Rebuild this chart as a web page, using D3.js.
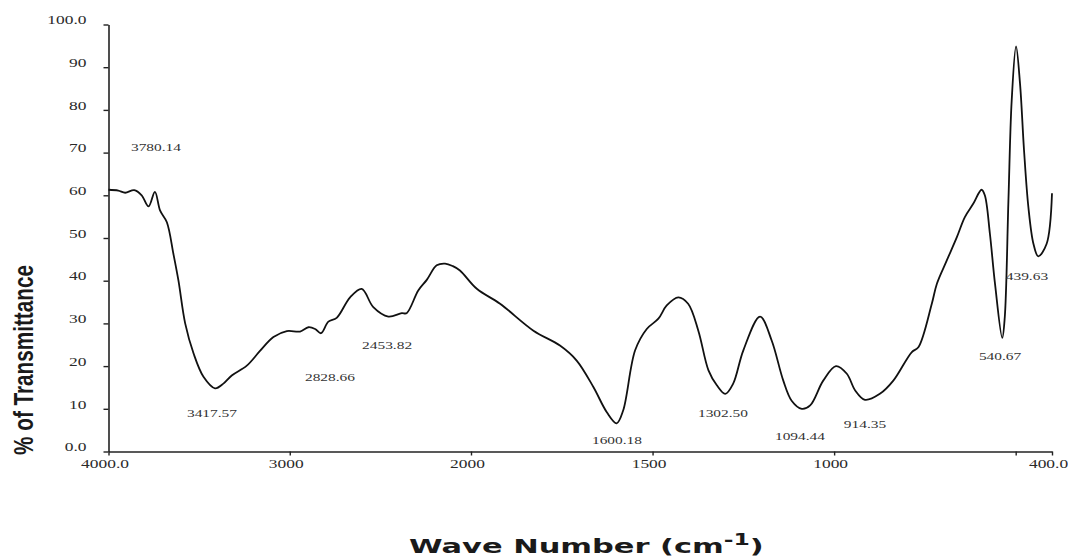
<!DOCTYPE html>
<html>
<head>
<meta charset="utf-8">
<script src="https://cdn.jsdelivr.net/npm/d3@7"></script>
<style>
  body { margin: 0; background: #fff; }
  svg { display: block; }
</style>
</head>
<body>
<svg id="chart"></svg>
<script>
// FTIR spectrum
const waveNumbers = [4000, 3946, 3908, 3858, 3817, 3779, 3744, 3715, 3678, 3642, 3614, 3577, 3531, 3476, 3412,
    3366, 3320, 3237, 3163, 3090, 3016, 2943, 2897, 2860, 2827, 2787, 2741, 2667, 2603, 2539, 2456, 2382,
    2355, 2291, 2244, 2189, 2143, 2100, 2061, 1984, 1920, 1828, 1755, 1709, 1663, 1626, 1599, 1581, 1548,
    1516, 1484, 1461, 1429, 1402, 1374, 1346, 1323, 1300, 1278, 1250, 1204, 1172, 1140, 1117, 1089, 1066,
    1030, 995, 965, 942, 915, 874, 837, 786, 768, 731, 717, 690, 662, 640, 617, 594, 585, 571, 557, 537,
    530, 520, 511, 499, 488, 477, 465, 451, 438, 415, 400];
const transmittance = [61.3, 61.1, 60.6, 61.2, 60.0, 57.4, 60.8, 56.4, 53.7, 46.3, 40.0, 30.0, 23.0, 17.5, 14.8,
    15.9, 17.8, 20.1, 23.6, 26.8, 28.2, 28.1, 29.1, 28.7, 27.7, 30.4, 31.3, 36.1, 38.1, 33.8, 31.6, 32.4,
    32.4, 37.7, 40.2, 43.6, 44.0, 43.4, 42.4, 38.1, 34.6, 28.3, 24.8, 21.3, 15.1, 9.2, 6.6, 9.6, 23.7,
    28.7, 31.1, 34.2, 36.1, 34.6, 28.3, 19.0, 15.5, 13.5, 15.9, 23.7, 31.6, 26.0, 16.6, 11.9, 10.0, 10.8,
    16.6, 20.0, 18.2, 14.3, 12.1, 13.5, 16.6, 23.3, 24.4, 34.6, 39.3, 44.7, 50.2, 54.9, 58.0, 61.3, 60.0, 51.0, 39.3, 26.6,
    31.5, 58.8, 82.2, 94.9, 86.1, 70.5, 57.2, 48.6, 45.7, 48.6, 60.5];

// peak annotations: text and where it sits (in wave number / % units)
const peakLabels = ['3780.14', '3417.57', '2828.66', '2453.82', '1600.18', '1302.50', '1094.44', '914.35', '540.67', '439.63'];
const peakLabelWn = [3738, 3429, 2778, 2463, 1598, 1306, 1094, 915, 543, 469];
const peakLabelT = [71.2, 9.0, 17.4, 24.9, 2.6, 9.0, 3.6, 6.3, 22.4, 41.1];

const xTicks = [4000, 3000, 2000, 1500, 1000, 500, 400];
const xTickLabels = ['4000.0', '3000', '2000', '1500', '1000', '', '400.0'];
const yTicks = [0, 10, 20, 30, 40, 50, 60, 70, 80, 90, 100];
const yTickLabels = ['0.0', '10', '20', '30', '40', '50', '60', '70', '80', '90', '100.0'];

const width = 1068;
const height = 560;

const svg = d3.select('#chart')
    .attr('width', width)
    .attr('height', height);

// the axis is split: 4000-2000 squeezed, 2000-400 stretched
const xScale = d3.scaleLinear()
    .domain([4000, 2000, 400])
    .range([108.5, 471, 1052]);
const yScale = d3.scaleLinear()
    .domain([0, 100])
    .range([451.5, 24.5]);

// width of a label made of digits and a point
const textW = (s, digit) => s.split('').reduce((a, c) => a + (c === '.' ? digit * 0.5 : digit), 0);

const xAxis = d3.axisBottom(xScale)
    .tickValues(xTicks)
    .tickFormat((d, i) => xTickLabels[i])
    .tickSize(4)
    .tickSizeOuter(0)
    .tickPadding(3.5);
const yAxis = d3.axisLeft(yScale)
    .tickValues(yTicks)
    .tickFormat((d, i) => yTickLabels[i])
    .tickSize(5)
    .tickSizeOuter(0)
    .tickPadding(17);

const gx = svg.append('g')
    .attr('transform', `translate(0,${yScale(0)})`)
    .call(xAxis);
const gy = svg.append('g')
    .attr('transform', `translate(${xScale(4000)},0)`)
    .call(yAxis);

[gx, gy].forEach(g => {
    g.select('.domain').attr('stroke', '#222').attr('stroke-width', 1.6);
    g.selectAll('.tick line').attr('stroke', '#222').attr('stroke-width', 1.4);
    g.selectAll('.tick text')
        .attr('font-family', '"Liberation Serif", "Times New Roman", serif')
        .attr('font-size', 12)
        .attr('fill', '#2a2a2a')
        .each(function() {
            const t = this.textContent;
            if (t) d3.select(this).attr('textLength', textW(t, 8.7)).attr('lengthAdjust', 'spacingAndGlyphs');
        });
});
gx.selectAll('.tick text').attr('dx', -4);
gy.selectAll('.tick text').attr('dy', '-0.06em');

// spectrum
const line = d3.line()
    .x(d => xScale(d[0]))
    .y(d => yScale(d[1]))
    .curve(d3.curveCatmullRom.alpha(0.5));

svg.append('path')
    .datum(d3.zip(waveNumbers, transmittance))
    .attr('d', line)
    .attr('fill', 'none')
    .attr('stroke', '#111')
    .attr('stroke-width', 1.8)
    .attr('stroke-linejoin', 'round');

// peak labels
svg.append('g').selectAll('text').data(peakLabels)
    .enter().append('text')
        .attr('x', (d, i) => xScale(peakLabelWn[i]))
        .attr('y', (d, i) => yScale(peakLabelT[i]))
        .attr('dy', '0.35em')
        .attr('text-anchor', 'middle')
        .attr('font-family', '"Liberation Serif", "Times New Roman", serif')
        .attr('font-size', 10.5)
        .attr('fill', '#333')
        .attr('textLength', d => textW(d, 7.7))
        .attr('lengthAdjust', 'spacingAndGlyphs')
        .text(d => d);

// axis titles, stretched to the width they have in the picture
const yTitle = svg.append('text')
    .attr('text-anchor', 'middle')
    .attr('font-family', '"Liberation Sans Narrow", "Liberation Sans", Arial, sans-serif')
    .attr('font-weight', 'bold')
    .attr('font-size', 27)
    .attr('fill', '#1a1a1a')
    .text('% of Transmittance');
const yw = yTitle.node().getComputedTextLength();
yTitle.attr('transform', `translate(33,360) rotate(-90) scale(${190 / yw},1)`);

const xTitle = svg.append('text')
    .attr('font-family', '"DejaVu Sans", "Liberation Sans", Arial, sans-serif')
    .attr('font-weight', 'bold')
    .attr('font-size', 19.5)
    .attr('fill', '#1a1a1a');
xTitle.append('tspan').text('Wave Number (cm');
xTitle.append('tspan').attr('font-size', 15).attr('dy', -8).text('-1');
xTitle.append('tspan').attr('dy', 8).text(')');
const xw = xTitle.node().getBBox().width;
xTitle.attr('transform', `translate(409,553) scale(${355 / xw},1)`);
</script>
</body>
</html>
